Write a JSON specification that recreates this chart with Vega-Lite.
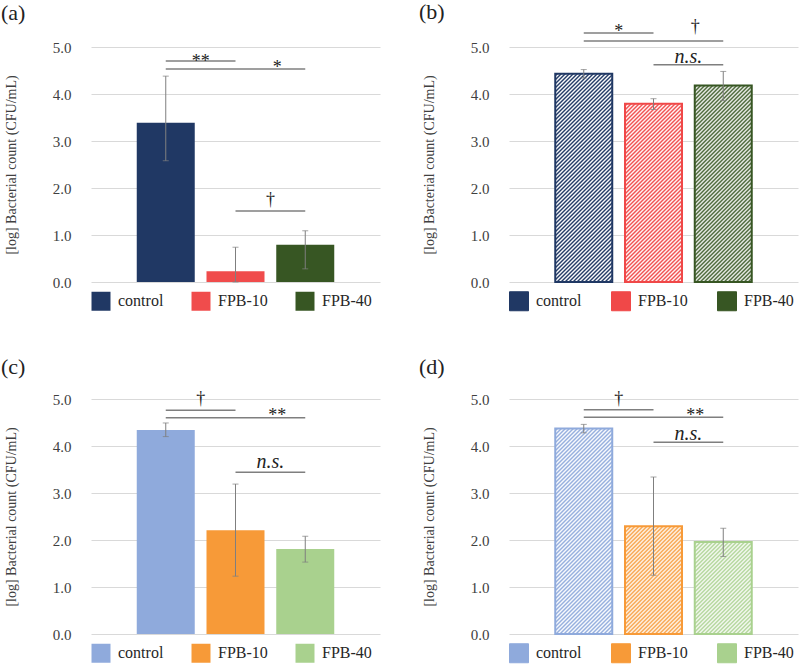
{
  "$schema": "https://vega.github.io/schema/vega-lite/v6.json",
  "background": "white",
  "padding": {"left": 1, "top": 1, "right": 2, "bottom": 2},
  "columns": 2,
  "bounds": "flush",
  "spacing": {"row": 117, "column": 129},
  "resolve": {
    "scale": {"color": "independent"},
    "legend": {"color": "independent"}
  },
  "params": [
    {"name": "hatch", "value": [
      {"offset":0,"color":"#fff"},{"offset":0.0075,"color":"rgba(255,255,255,0)"},{"offset":0.015,"color":"#fff"},{"offset":0.0225,"color":"rgba(255,255,255,0)"},{"offset":0.03,"color":"#fff"},{"offset":0.0375,"color":"rgba(255,255,255,0)"},{"offset":0.045,"color":"#fff"},{"offset":0.0525,"color":"rgba(255,255,255,0)"},{"offset":0.06,"color":"#fff"},{"offset":0.0675,"color":"rgba(255,255,255,0)"},
      {"offset":0.075,"color":"#fff"},{"offset":0.0825,"color":"rgba(255,255,255,0)"},{"offset":0.09,"color":"#fff"},{"offset":0.0975,"color":"rgba(255,255,255,0)"},{"offset":0.105,"color":"#fff"},{"offset":0.1125,"color":"rgba(255,255,255,0)"},{"offset":0.12,"color":"#fff"},{"offset":0.1275,"color":"rgba(255,255,255,0)"},{"offset":0.135,"color":"#fff"},{"offset":0.1425,"color":"rgba(255,255,255,0)"},
      {"offset":0.15,"color":"#fff"},{"offset":0.1575,"color":"rgba(255,255,255,0)"},{"offset":0.165,"color":"#fff"},{"offset":0.1725,"color":"rgba(255,255,255,0)"},{"offset":0.18,"color":"#fff"},{"offset":0.1875,"color":"rgba(255,255,255,0)"},{"offset":0.195,"color":"#fff"},{"offset":0.2025,"color":"rgba(255,255,255,0)"},{"offset":0.21,"color":"#fff"},{"offset":0.2175,"color":"rgba(255,255,255,0)"},
      {"offset":0.225,"color":"#fff"},{"offset":0.2325,"color":"rgba(255,255,255,0)"},{"offset":0.24,"color":"#fff"},{"offset":0.2475,"color":"rgba(255,255,255,0)"},{"offset":0.255,"color":"#fff"},{"offset":0.2625,"color":"rgba(255,255,255,0)"},{"offset":0.27,"color":"#fff"},{"offset":0.2775,"color":"rgba(255,255,255,0)"},{"offset":0.285,"color":"#fff"},{"offset":0.2925,"color":"rgba(255,255,255,0)"},
      {"offset":0.3,"color":"#fff"},{"offset":0.3075,"color":"rgba(255,255,255,0)"},{"offset":0.315,"color":"#fff"},{"offset":0.3225,"color":"rgba(255,255,255,0)"},{"offset":0.33,"color":"#fff"},{"offset":0.3375,"color":"rgba(255,255,255,0)"},{"offset":0.345,"color":"#fff"},{"offset":0.3525,"color":"rgba(255,255,255,0)"},{"offset":0.36,"color":"#fff"},{"offset":0.3675,"color":"rgba(255,255,255,0)"},
      {"offset":0.375,"color":"#fff"},{"offset":0.3825,"color":"rgba(255,255,255,0)"},{"offset":0.39,"color":"#fff"},{"offset":0.3975,"color":"rgba(255,255,255,0)"},{"offset":0.405,"color":"#fff"},{"offset":0.4125,"color":"rgba(255,255,255,0)"},{"offset":0.42,"color":"#fff"},{"offset":0.4275,"color":"rgba(255,255,255,0)"},{"offset":0.435,"color":"#fff"},{"offset":0.4425,"color":"rgba(255,255,255,0)"},
      {"offset":0.45,"color":"#fff"},{"offset":0.4575,"color":"rgba(255,255,255,0)"},{"offset":0.465,"color":"#fff"},{"offset":0.4725,"color":"rgba(255,255,255,0)"},{"offset":0.48,"color":"#fff"},{"offset":0.4875,"color":"rgba(255,255,255,0)"},{"offset":0.495,"color":"#fff"},{"offset":0.5025,"color":"rgba(255,255,255,0)"},{"offset":0.51,"color":"#fff"},{"offset":0.5175,"color":"rgba(255,255,255,0)"},
      {"offset":0.525,"color":"#fff"},{"offset":0.5325,"color":"rgba(255,255,255,0)"},{"offset":0.54,"color":"#fff"},{"offset":0.5475,"color":"rgba(255,255,255,0)"},{"offset":0.555,"color":"#fff"},{"offset":0.5625,"color":"rgba(255,255,255,0)"},{"offset":0.57,"color":"#fff"},{"offset":0.5775,"color":"rgba(255,255,255,0)"},{"offset":0.585,"color":"#fff"},{"offset":0.5925,"color":"rgba(255,255,255,0)"},
      {"offset":0.6,"color":"#fff"},{"offset":0.6075,"color":"rgba(255,255,255,0)"},{"offset":0.615,"color":"#fff"},{"offset":0.6225,"color":"rgba(255,255,255,0)"},{"offset":0.63,"color":"#fff"},{"offset":0.6375,"color":"rgba(255,255,255,0)"},{"offset":0.645,"color":"#fff"},{"offset":0.6525,"color":"rgba(255,255,255,0)"},{"offset":0.66,"color":"#fff"},{"offset":0.6675,"color":"rgba(255,255,255,0)"},
      {"offset":0.675,"color":"#fff"},{"offset":0.6825,"color":"rgba(255,255,255,0)"},{"offset":0.69,"color":"#fff"},{"offset":0.6975,"color":"rgba(255,255,255,0)"},{"offset":0.705,"color":"#fff"},{"offset":0.7125,"color":"rgba(255,255,255,0)"},{"offset":0.72,"color":"#fff"},{"offset":0.7275,"color":"rgba(255,255,255,0)"},{"offset":0.735,"color":"#fff"},{"offset":0.7425,"color":"rgba(255,255,255,0)"},
      {"offset":0.75,"color":"#fff"},{"offset":0.7575,"color":"rgba(255,255,255,0)"},{"offset":0.765,"color":"#fff"},{"offset":0.7725,"color":"rgba(255,255,255,0)"},{"offset":0.78,"color":"#fff"},{"offset":0.7875,"color":"rgba(255,255,255,0)"},{"offset":0.795,"color":"#fff"},{"offset":0.8025,"color":"rgba(255,255,255,0)"},{"offset":0.81,"color":"#fff"},{"offset":0.8175,"color":"rgba(255,255,255,0)"},
      {"offset":0.825,"color":"#fff"},{"offset":0.8325,"color":"rgba(255,255,255,0)"},{"offset":0.84,"color":"#fff"},{"offset":0.8475,"color":"rgba(255,255,255,0)"},{"offset":0.855,"color":"#fff"},{"offset":0.8625,"color":"rgba(255,255,255,0)"},{"offset":0.87,"color":"#fff"},{"offset":0.8775,"color":"rgba(255,255,255,0)"},{"offset":0.885,"color":"#fff"},{"offset":0.8925,"color":"rgba(255,255,255,0)"},
      {"offset":0.9,"color":"#fff"},{"offset":0.9075,"color":"rgba(255,255,255,0)"},{"offset":0.915,"color":"#fff"},{"offset":0.9225,"color":"rgba(255,255,255,0)"},{"offset":0.93,"color":"#fff"},{"offset":0.9375,"color":"rgba(255,255,255,0)"},{"offset":0.945,"color":"#fff"},{"offset":0.9525,"color":"rgba(255,255,255,0)"},{"offset":0.96,"color":"#fff"},{"offset":0.9675,"color":"rgba(255,255,255,0)"},
      {"offset":0.975,"color":"#fff"},{"offset":0.9825,"color":"rgba(255,255,255,0)"},{"offset":0.99,"color":"#fff"},{"offset":0.9975,"color":"rgba(255,255,255,0)"},{"offset":1,"color":"rgba(255,255,255,0)"}
    ]}
  ],
  "config": {
    "font": "Liberation Serif",
    "view": {"stroke": null},
    "style": {"guide-label": {"font": "Liberation Serif"}, "guide-title": {"font": "Liberation Serif"}},
    "axisY": {"gridColor": "#d9d9d9", "gridWidth": 1, "domain": false, "ticks": false, "labelPadding": 20, "labelFont": "Liberation Serif", "labelFontSize": 15, "labelColor": "#404040", "titleFont": "Liberation Serif", "titleFontSize": 14, "titleFontWeight": "normal", "titleColor": "#404040", "titlePadding": 34},
    "legend": {"orient": "bottom", "direction": "horizontal", "symbolType": "square", "symbolSize": 361, "symbolStrokeWidth": 1, "symbolOpacity": 1, "labelFont": "Liberation Serif", "labelFontSize": 16, "labelColor": "#262626", "labelOffset": 7, "columnPadding": 27, "offset": 9, "padding": 0},
    "title": {"anchor": "start", "frame": "group", "dx": -90, "font": "Liberation Serif", "fontSize": 22, "fontWeight": "normal", "color": "#222222"},
    "text": {"font": "Liberation Serif"}
  },
  "datasets": {
    "a": [
      {"group": "control", "pos": 1, "mean": 3.39, "lo": 2.58, "hi": 4.38},
      {"group": "FPB-10", "pos": 2, "mean": 0.23, "lo": 0, "hi": 0.74},
      {"group": "FPB-40", "pos": 3, "mean": 0.79, "lo": 0.28, "hi": 1.09}
    ],
    "b": [
      {"group": "control", "pos": 1, "mean": 4.43, "lo": 4.34, "hi": 4.52},
      {"group": "FPB-10", "pos": 2, "mean": 3.79, "lo": 3.67, "hi": 3.9},
      {"group": "FPB-40", "pos": 3, "mean": 4.18, "lo": 3.86, "hi": 4.48}
    ],
    "c": [
      {"group": "control", "pos": 1, "mean": 4.34, "lo": 4.2, "hi": 4.49},
      {"group": "FPB-10", "pos": 2, "mean": 2.21, "lo": 1.23, "hi": 3.19},
      {"group": "FPB-40", "pos": 3, "mean": 1.81, "lo": 1.53, "hi": 2.08}
    ],
    "d": [
      {"group": "control", "pos": 1, "mean": 4.37, "lo": 4.28, "hi": 4.46},
      {"group": "FPB-10", "pos": 2, "mean": 2.29, "lo": 1.25, "hi": 3.34},
      {"group": "FPB-40", "pos": 3, "mean": 1.96, "lo": 1.65, "hi": 2.25}
    ],
    "sig": [
      {"panel": "a", "x1": 1, "x2": 2, "y": 4.7},
      {"panel": "a", "x1": 1, "x2": 3, "y": 4.53},
      {"panel": "a", "x1": 2, "x2": 3, "y": 1.51},
      {"panel": "b", "x1": 1, "x2": 2, "y": 5.3},
      {"panel": "b", "x1": 1, "x2": 3, "y": 5.13},
      {"panel": "b", "x1": 2, "x2": 3, "y": 4.62},
      {"panel": "c", "x1": 1, "x2": 2, "y": 4.76},
      {"panel": "c", "x1": 1, "x2": 3, "y": 4.6},
      {"panel": "c", "x1": 2, "x2": 3, "y": 3.44},
      {"panel": "d", "x1": 1, "x2": 2, "y": 4.77},
      {"panel": "d", "x1": 1, "x2": 3, "y": 4.61},
      {"panel": "d", "x1": 2, "x2": 3, "y": 4.08}
    ],
    "lab": [
      {"panel": "a", "x": 1.5, "y": 4.58, "label": "**"},
      {"panel": "a", "x": 2.6, "y": 4.45, "label": "*"},
      {"panel": "a", "x": 2.5, "y": 1.64, "label": "†"},
      {"panel": "b", "x": 1.5, "y": 5.22, "label": "*"},
      {"panel": "b", "x": 2.6, "y": 5.31, "label": "†"},
      {"panel": "b", "x": 2.5, "y": 4.66, "label": "n.s."},
      {"panel": "c", "x": 1.5, "y": 4.9, "label": "†"},
      {"panel": "c", "x": 2.6, "y": 4.54, "label": "**"},
      {"panel": "c", "x": 2.5, "y": 3.54, "label": "n.s."},
      {"panel": "d", "x": 1.5, "y": 4.9, "label": "†"},
      {"panel": "d", "x": 2.6, "y": 4.54, "label": "**"},
      {"panel": "d", "x": 2.5, "y": 4.13, "label": "n.s."}
    ]
  },
  "concat": [
    {
      "title": {"text": "(a)", "offset": 15},
      "width": 289, "height": 235,
      "layer": [
        {"data": {"name": "a"}, "mark": {"type": "bar", "orient": "vertical", "width": 58},
         "encoding": {
           "x": {"field": "pos", "type": "quantitative", "scale": {"domain": [0, 4]}, "axis": null},
           "y": {"field": "mean", "type": "quantitative", "scale": {"domain": [0, 5], "nice": false}, "axis": {"values": [0, 1, 2, 3, 4, 5], "format": ".1f", "labelFont": "Liberation Serif", "title": "[log] Bacterial count (CFU/mL)"}},
           "color": {"field": "group", "type": "nominal", "scale": {"domain": ["control", "FPB-10", "FPB-40"], "range": ["#203864", "#f04c4c", "#375623"]}, "legend": {"title": null, "labelFont": "Liberation Serif"}}
         }},
        {"data": {"name": "a"}, "mark": {"type": "errorbar", "ticks": {"size": 6}, "color": "#7f7f7f"},
         "encoding": {
           "x": {"field": "pos", "type": "quantitative", "scale": {"domain": [0, 4]}},
           "y": {"field": "lo", "type": "quantitative", "scale": {"domain": [0, 5], "nice": false}, "title": "[log] Bacterial count (CFU/mL)"},
           "y2": {"field": "hi"}
         }},
        {"data": {"name": "sig"}, "transform": [{"filter": "datum.panel === 'a'"}], "mark": {"type": "rule", "color": "#7f7f7f", "strokeWidth": 1.5},
         "encoding": {
           "x": {"field": "x1", "type": "quantitative", "scale": {"domain": [0, 4]}}, "x2": {"field": "x2"},
           "y": {"field": "y", "type": "quantitative", "scale": {"domain": [0, 5], "nice": false}, "title": "[log] Bacterial count (CFU/mL)"}
         }},
        {"data": {"name": "lab"}, "transform": [{"filter": "datum.panel === 'a' && datum.label !== 'n.s.'"}], "mark": {"type": "text", "font": "Liberation Serif", "fontSize": 18, "color": "#222222", "baseline": "alphabetic"},
         "encoding": {
           "x": {"field": "x", "type": "quantitative", "scale": {"domain": [0, 4]}},
           "y": {"field": "y", "type": "quantitative", "scale": {"domain": [0, 5], "nice": false}, "title": "[log] Bacterial count (CFU/mL)"},
           "text": {"field": "label"}
         }}
      ]
    },
    {
      "title": {"text": "(b)", "offset": -6},
      "width": 289, "height": 235,
      "layer": [
        {"data": {"name": "b"}, "mark": {"type": "bar", "orient": "vertical", "width": 57},
         "encoding": {
           "x": {"field": "pos", "type": "quantitative", "scale": {"domain": [0, 4]}, "axis": null},
           "y": {"field": "mean", "type": "quantitative", "scale": {"domain": [0, 5], "nice": false}, "axis": {"values": [0, 1, 2, 3, 4, 5], "format": ".1f", "labelFont": "Liberation Serif", "title": "[log] Bacterial count (CFU/mL)"}},
           "color": {"field": "group", "type": "nominal", "scale": {"domain": ["control", "FPB-10", "FPB-40"], "range": ["#203864", "#f04848", "#375623"]}, "legend": {"title": null, "labelFont": "Liberation Serif"}}
         }},
        {"data": {"name": "b"}, "mark": {"type": "bar", "orient": "vertical", "width": 57, "fill": {"expr": "{gradient: 'linear', x1: 0, y1: 0, x2: 266.67 * 57 / (3249 + pow(47 * datum.mean, 2)), y2: 266.67 * 47 * datum.mean / (3249 + pow(47 * datum.mean, 2)), stops: hatch}"}},
         "encoding": {
           "x": {"field": "pos", "type": "quantitative", "scale": {"domain": [0, 4]}},
           "y": {"field": "mean", "type": "quantitative", "scale": {"domain": [0, 5], "nice": false}, "title": "[log] Bacterial count (CFU/mL)"}
         }},
        {"data": {"name": "b"}, "mark": {"type": "bar", "orient": "vertical", "width": 57, "filled": false, "strokeWidth": 2},
         "encoding": {
           "x": {"field": "pos", "type": "quantitative", "scale": {"domain": [0, 4]}},
           "y": {"field": "mean", "type": "quantitative", "scale": {"domain": [0, 5], "nice": false}, "title": "[log] Bacterial count (CFU/mL)"},
           "color": {"field": "group", "type": "nominal", "legend": null}
         }},
        {"data": {"name": "b"}, "mark": {"type": "errorbar", "ticks": {"size": 6}, "color": "#7f7f7f"},
         "encoding": {
           "x": {"field": "pos", "type": "quantitative", "scale": {"domain": [0, 4]}},
           "y": {"field": "lo", "type": "quantitative", "scale": {"domain": [0, 5], "nice": false}, "title": "[log] Bacterial count (CFU/mL)"},
           "y2": {"field": "hi"}
         }},
        {"data": {"name": "sig"}, "transform": [{"filter": "datum.panel === 'b'"}], "mark": {"type": "rule", "color": "#7f7f7f", "strokeWidth": 1.5},
         "encoding": {
           "x": {"field": "x1", "type": "quantitative", "scale": {"domain": [0, 4]}}, "x2": {"field": "x2"},
           "y": {"field": "y", "type": "quantitative", "scale": {"domain": [0, 5], "nice": false}, "title": "[log] Bacterial count (CFU/mL)"}
         }},
        {"data": {"name": "lab"}, "transform": [{"filter": "datum.panel === 'b' && datum.label !== 'n.s.'"}], "mark": {"type": "text", "font": "Liberation Serif", "fontSize": 18, "color": "#222222", "baseline": "alphabetic"},
         "encoding": {
           "x": {"field": "x", "type": "quantitative", "scale": {"domain": [0, 4]}},
           "y": {"field": "y", "type": "quantitative", "scale": {"domain": [0, 5], "nice": false}, "title": "[log] Bacterial count (CFU/mL)"},
           "text": {"field": "label"}
         }},
        {"data": {"name": "lab"}, "transform": [{"filter": "datum.panel === 'b' && datum.label === 'n.s.'"}], "mark": {"type": "text", "font": "Liberation Serif", "fontSize": 20, "fontStyle": "italic", "color": "#222222", "baseline": "alphabetic"},
         "encoding": {
           "x": {"field": "x", "type": "quantitative", "scale": {"domain": [0, 4]}},
           "y": {"field": "y", "type": "quantitative", "scale": {"domain": [0, 5], "nice": false}, "title": "[log] Bacterial count (CFU/mL)"},
           "text": {"field": "label"}
         }}
      ]
    },
    {
      "title": {"text": "(c)", "offset": 11},
      "width": 289, "height": 235,
      "layer": [
        {"data": {"name": "c"}, "mark": {"type": "bar", "orient": "vertical", "width": 58},
         "encoding": {
           "x": {"field": "pos", "type": "quantitative", "scale": {"domain": [0, 4]}, "axis": null},
           "y": {"field": "mean", "type": "quantitative", "scale": {"domain": [0, 5], "nice": false}, "axis": {"values": [0, 1, 2, 3, 4, 5], "format": ".1f", "labelFont": "Liberation Serif", "title": "[log] Bacterial count (CFU/mL)"}},
           "color": {"field": "group", "type": "nominal", "scale": {"domain": ["control", "FPB-10", "FPB-40"], "range": ["#8faadc", "#f79a38", "#a9d18e"]}, "legend": {"title": null, "labelFont": "Liberation Serif"}}
         }},
        {"data": {"name": "c"}, "mark": {"type": "errorbar", "ticks": {"size": 6}, "color": "#7f7f7f"},
         "encoding": {
           "x": {"field": "pos", "type": "quantitative", "scale": {"domain": [0, 4]}},
           "y": {"field": "lo", "type": "quantitative", "scale": {"domain": [0, 5], "nice": false}, "title": "[log] Bacterial count (CFU/mL)"},
           "y2": {"field": "hi"}
         }},
        {"data": {"name": "sig"}, "transform": [{"filter": "datum.panel === 'c'"}], "mark": {"type": "rule", "color": "#7f7f7f", "strokeWidth": 1.5},
         "encoding": {
           "x": {"field": "x1", "type": "quantitative", "scale": {"domain": [0, 4]}}, "x2": {"field": "x2"},
           "y": {"field": "y", "type": "quantitative", "scale": {"domain": [0, 5], "nice": false}, "title": "[log] Bacterial count (CFU/mL)"}
         }},
        {"data": {"name": "lab"}, "transform": [{"filter": "datum.panel === 'c' && datum.label !== 'n.s.'"}], "mark": {"type": "text", "font": "Liberation Serif", "fontSize": 18, "color": "#222222", "baseline": "alphabetic"},
         "encoding": {
           "x": {"field": "x", "type": "quantitative", "scale": {"domain": [0, 4]}},
           "y": {"field": "y", "type": "quantitative", "scale": {"domain": [0, 5], "nice": false}, "title": "[log] Bacterial count (CFU/mL)"},
           "text": {"field": "label"}
         }},
        {"data": {"name": "lab"}, "transform": [{"filter": "datum.panel === 'c' && datum.label === 'n.s.'"}], "mark": {"type": "text", "font": "Liberation Serif", "fontSize": 20, "fontStyle": "italic", "color": "#222222", "baseline": "alphabetic"},
         "encoding": {
           "x": {"field": "x", "type": "quantitative", "scale": {"domain": [0, 4]}},
           "y": {"field": "y", "type": "quantitative", "scale": {"domain": [0, 5], "nice": false}, "title": "[log] Bacterial count (CFU/mL)"},
           "text": {"field": "label"}
         }}
      ]
    },
    {
      "title": {"text": "(d)", "offset": 11},
      "width": 289, "height": 235,
      "layer": [
        {"data": {"name": "d"}, "mark": {"type": "bar", "orient": "vertical", "width": 57},
         "encoding": {
           "x": {"field": "pos", "type": "quantitative", "scale": {"domain": [0, 4]}, "axis": null},
           "y": {"field": "mean", "type": "quantitative", "scale": {"domain": [0, 5], "nice": false}, "axis": {"values": [0, 1, 2, 3, 4, 5], "format": ".1f", "labelFont": "Liberation Serif", "title": "[log] Bacterial count (CFU/mL)"}},
           "color": {"field": "group", "type": "nominal", "scale": {"domain": ["control", "FPB-10", "FPB-40"], "range": ["#8faadc", "#f79a38", "#a9d18e"]}, "legend": {"title": null, "labelFont": "Liberation Serif"}}
         }},
        {"data": {"name": "d"}, "mark": {"type": "bar", "orient": "vertical", "width": 57, "fill": {"expr": "{gradient: 'linear', x1: 0, y1: 0, x2: 266.67 * 57 / (3249 + pow(47 * datum.mean, 2)), y2: 266.67 * 47 * datum.mean / (3249 + pow(47 * datum.mean, 2)), stops: hatch}"}},
         "encoding": {
           "x": {"field": "pos", "type": "quantitative", "scale": {"domain": [0, 4]}},
           "y": {"field": "mean", "type": "quantitative", "scale": {"domain": [0, 5], "nice": false}, "title": "[log] Bacterial count (CFU/mL)"}
         }},
        {"data": {"name": "d"}, "mark": {"type": "bar", "orient": "vertical", "width": 57, "filled": false, "strokeWidth": 2},
         "encoding": {
           "x": {"field": "pos", "type": "quantitative", "scale": {"domain": [0, 4]}},
           "y": {"field": "mean", "type": "quantitative", "scale": {"domain": [0, 5], "nice": false}, "title": "[log] Bacterial count (CFU/mL)"},
           "color": {"field": "group", "type": "nominal", "legend": null}
         }},
        {"data": {"name": "d"}, "mark": {"type": "errorbar", "ticks": {"size": 6}, "color": "#7f7f7f"},
         "encoding": {
           "x": {"field": "pos", "type": "quantitative", "scale": {"domain": [0, 4]}},
           "y": {"field": "lo", "type": "quantitative", "scale": {"domain": [0, 5], "nice": false}, "title": "[log] Bacterial count (CFU/mL)"},
           "y2": {"field": "hi"}
         }},
        {"data": {"name": "sig"}, "transform": [{"filter": "datum.panel === 'd'"}], "mark": {"type": "rule", "color": "#7f7f7f", "strokeWidth": 1.5},
         "encoding": {
           "x": {"field": "x1", "type": "quantitative", "scale": {"domain": [0, 4]}}, "x2": {"field": "x2"},
           "y": {"field": "y", "type": "quantitative", "scale": {"domain": [0, 5], "nice": false}, "title": "[log] Bacterial count (CFU/mL)"}
         }},
        {"data": {"name": "lab"}, "transform": [{"filter": "datum.panel === 'd' && datum.label !== 'n.s.'"}], "mark": {"type": "text", "font": "Liberation Serif", "fontSize": 18, "color": "#222222", "baseline": "alphabetic"},
         "encoding": {
           "x": {"field": "x", "type": "quantitative", "scale": {"domain": [0, 4]}},
           "y": {"field": "y", "type": "quantitative", "scale": {"domain": [0, 5], "nice": false}, "title": "[log] Bacterial count (CFU/mL)"},
           "text": {"field": "label"}
         }},
        {"data": {"name": "lab"}, "transform": [{"filter": "datum.panel === 'd' && datum.label === 'n.s.'"}], "mark": {"type": "text", "font": "Liberation Serif", "fontSize": 20, "fontStyle": "italic", "color": "#222222", "baseline": "alphabetic"},
         "encoding": {
           "x": {"field": "x", "type": "quantitative", "scale": {"domain": [0, 4]}},
           "y": {"field": "y", "type": "quantitative", "scale": {"domain": [0, 5], "nice": false}, "title": "[log] Bacterial count (CFU/mL)"},
           "text": {"field": "label"}
         }}
      ]
    }
  ]
}
